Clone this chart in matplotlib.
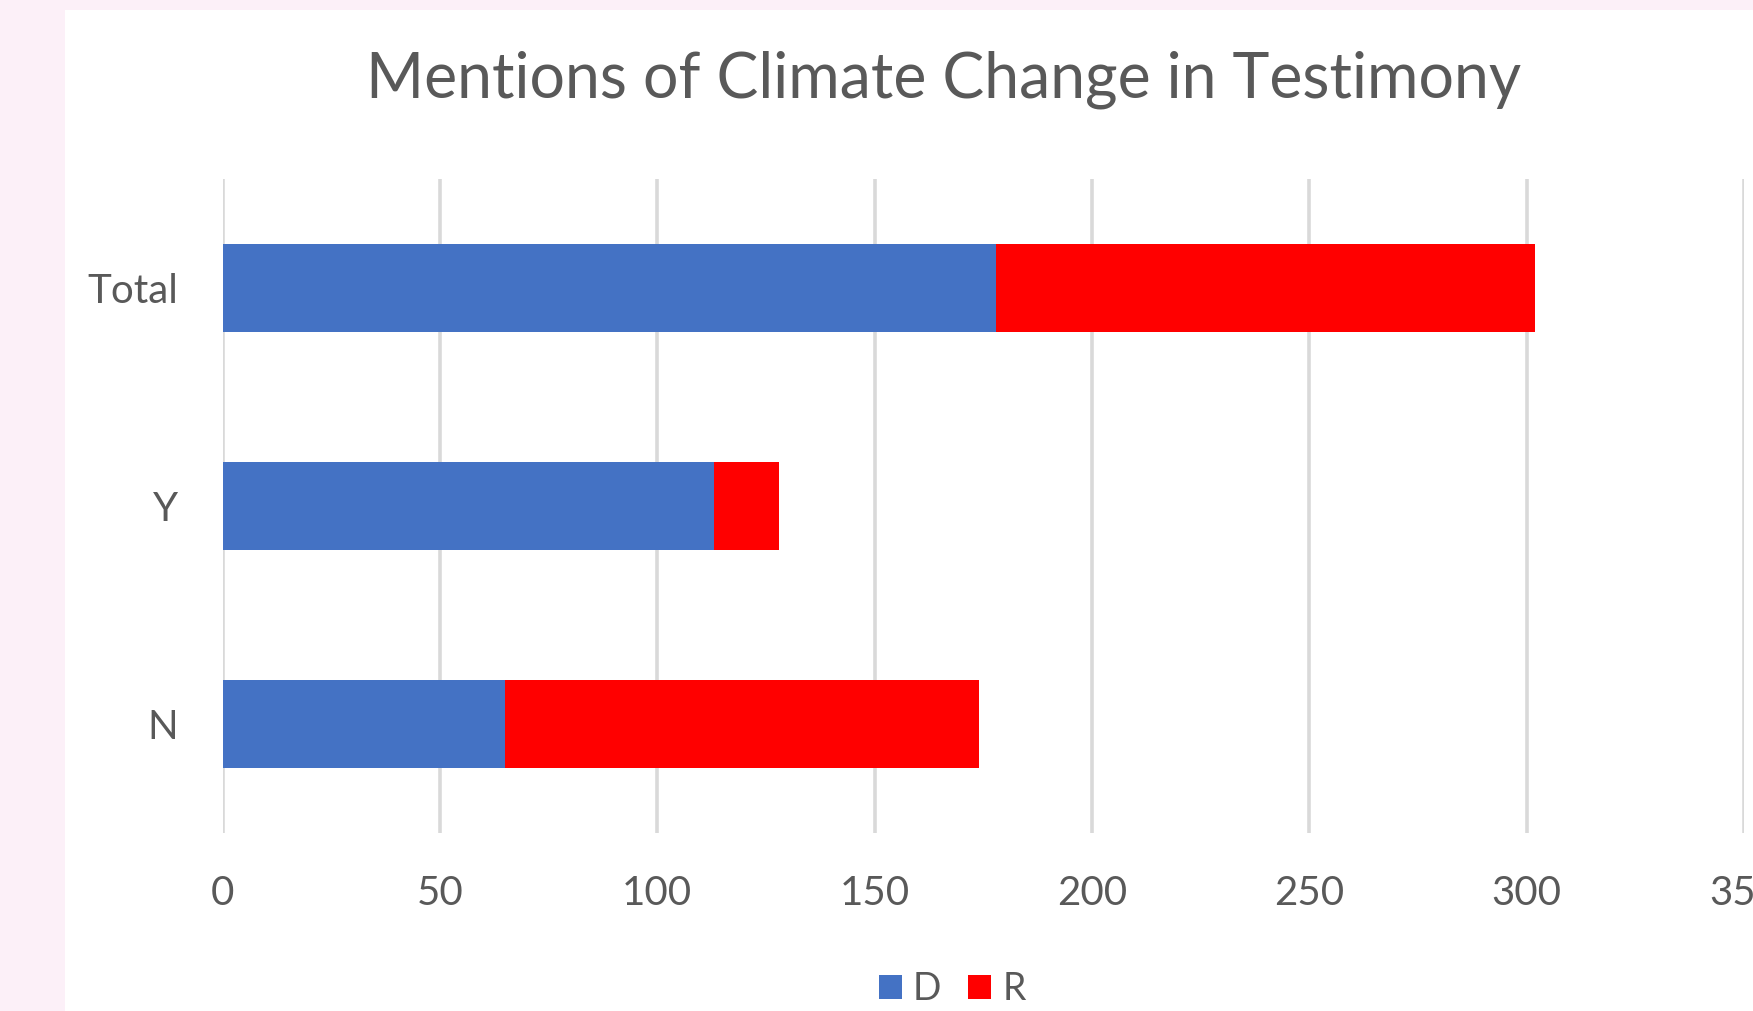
import matplotlib
matplotlib.use("Agg")
import matplotlib.pyplot as plt
from matplotlib.patches import Rectangle, Patch

categories = ["N", "Y", "Total"]
d_values = [65, 113, 178]
r_values = [109, 15, 124]
x_ticks = [0, 50, 100, 150, 200, 250, 300, 350]
series_names = ["D", "R"]
title = "Mentions of Climate Change in Testimony"

BLUE = "#4472C4"
RED = "#FF0000"
GRAY_TXT = "#595959"
GRID = "#D9D9D9"
PINK = "#FCF0F8"

plt.rcParams['font.family'] = ['Lato', 'DejaVu Sans']

W, H = 1753, 1011
fig = plt.figure(figsize=(W / 100, H / 100), dpi=100)
fig.patch.set_facecolor("white")

# pink page background strips
fig.patches.append(Rectangle((0, 1 - 10 / H), 1, 10 / H, transform=fig.transFigure,
                             facecolor=PINK, edgecolor="none", zorder=0))
fig.patches.append(Rectangle((0, 0), 65 / W, 1, transform=fig.transFigure,
                             facecolor=PINK, edgecolor="none", zorder=0))

left, right = 222.5 / W, 1744 / W
bottom, top = 1 - 833 / H, 1 - 179 / H
ax = fig.add_axes([left, bottom, right - left, top - bottom])
ax.set_facecolor("none")

y = list(range(len(categories)))
ax.barh(y, d_values, height=0.4, color=BLUE, label=series_names[0], zorder=3)
ax.barh(y, r_values, left=d_values, height=0.4, color=RED, label=series_names[1], zorder=3)

ax.set_xlim(0, 350)
ax.set_ylim(-0.5, len(categories) - 0.5)
ax.set_xticks(x_ticks)
ax.set_xticklabels([str(t) for t in x_ticks])
ax.set_yticks(y)
ax.set_yticklabels(categories)
ax.grid(axis="x", color=GRID, linewidth=2.6, zorder=0)
ax.set_axisbelow(True)
for s in ax.spines.values():
    s.set_visible(False)
ax.tick_params(axis="both", length=0, labelsize=29, colors=GRAY_TXT)
ax.tick_params(axis="y", pad=32)
ax.tick_params(axis="x", pad=30)

fig.text(944 / W, 1 - 80 / H, title, ha="center", va="center",
         fontsize=45, color=GRAY_TXT)

handles = [Patch(facecolor=BLUE, edgecolor="none"), Patch(facecolor=RED, edgecolor="none")]
leg = fig.legend(handles, series_names, loc="center", bbox_to_anchor=(952 / W, 1 - 989 / H),
                 ncol=2, frameon=False, fontsize=27, handlelength=0.62, handleheight=0.62,
                 handletextpad=0.3, columnspacing=0.7, borderaxespad=0, borderpad=0)
for t in leg.get_texts():
    t.set_color(GRAY_TXT)

fig.savefig("out.png", dpi=100, facecolor=fig.get_facecolor())
